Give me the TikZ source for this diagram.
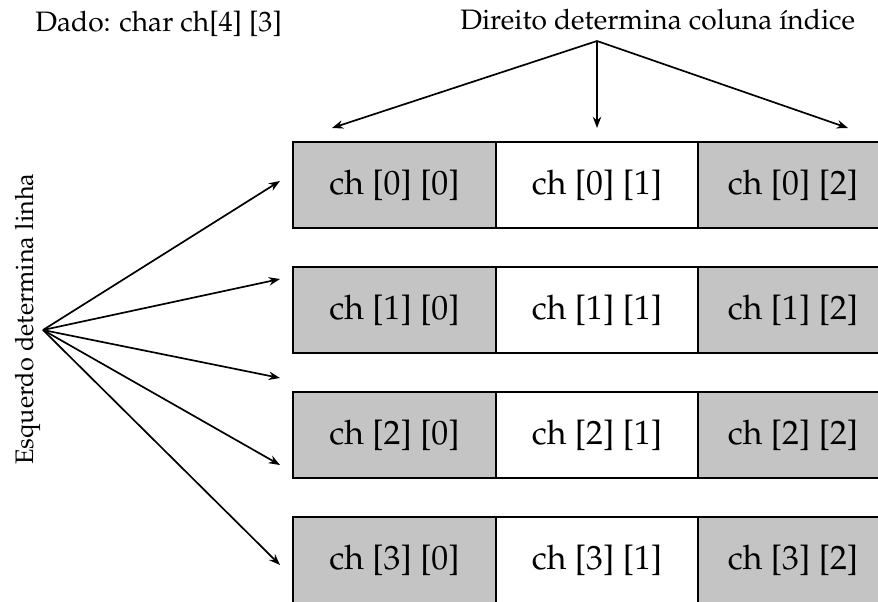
\documentclass[tikz,border=0pt]{standalone}
\usepackage[T1]{fontenc}
\usepackage{mathpazo}
\usepackage{tikz}
\usetikzlibrary{positioning, arrows, arrows.meta}

\definecolor{cellgray}{HTML}{C4C4C4}
\tikzset{
  cell/.style={draw=black, line width=1.3pt, minimum height=2.15cm, inner sep=0pt,
    font=\fontsize{24}{26}\selectfont},
  darkcell/.style={cell, fill=cellgray},
  lightcell/.style={cell, fill=white},
  arr/.style={-{Stealth[length=8pt,width=6pt]}, line width=1.2pt},
  lbl/.style={font=\fontsize{20}{24}\selectfont, inner sep=0pt}
}

\begin{document}
\begin{tikzpicture}[x=0.025cm, y=-0.025cm]
\useasboundingbox (0,0) rectangle (878,602);

% labels
\node[lbl, anchor=base west] (dado) at (35,32) {Dado: char ch[4] [3]};
\node[lbl, anchor=base west] (direito) at (460,30) {Direito determina coluna \'{\i}ndice};
\node[lbl, font=\fontsize{18}{21}\selectfont, rotate=90, anchor=base] (esquerdo) at (33,319) {Esquerdo determina linha};

% cells
\foreach \r in {0,1,2,3} {
  \node[darkcell, minimum width=5.075cm] (c\r0) at (394.5,185+125*\r) {ch [\r] [0]};
  \node[lightcell, minimum width=5.05cm] (c\r1) at (597,185+125*\r) {ch [\r] [1]};
  \node[darkcell, minimum width=4.75cm] (c\r2) at (793,185+125*\r) {ch [\r] [2]};
}

% arrows
\coordinate (top) at (597,41);
\coordinate (left) at (43,330);
\foreach \x [count=\i] in {332,597,848} {
  \coordinate (t\i) at (\x,128);
  \draw[arr] (top) -- (t\i);
}
\foreach \y [count=\i] in {181,279,378,465,565} {
  \coordinate (l\i) at (280,\y);
  \draw[arr] (left) -- (l\i);
}
\end{tikzpicture}
\end{document}
